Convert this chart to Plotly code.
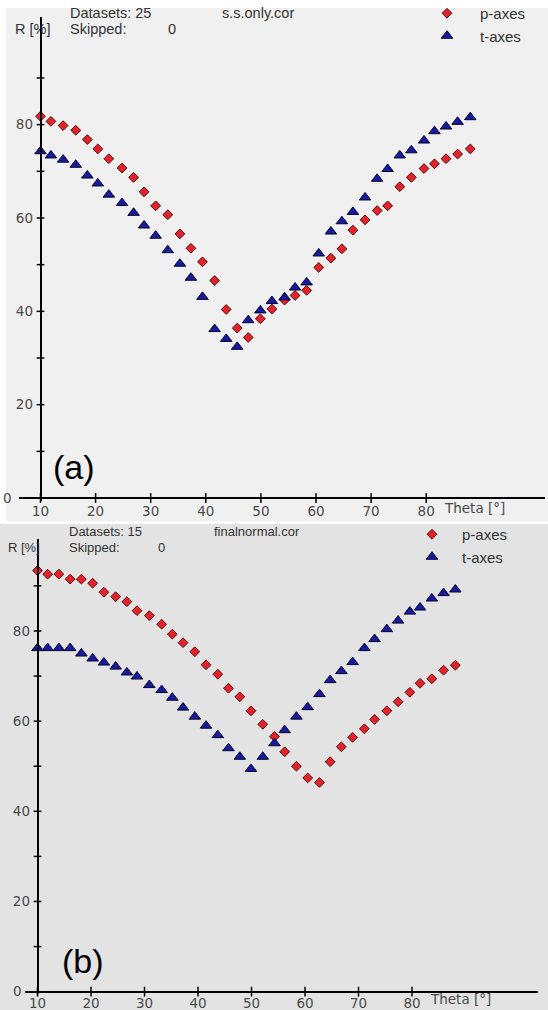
import plotly.graph_objects as go

W, H = 548, 1010

# ---------------- data ----------------
theta_a = [10.0, 11.9, 14.1, 16.4, 18.5, 20.4, 22.4, 24.8, 26.9, 28.8,
           30.9, 33.1, 35.3, 37.3, 39.4, 41.6, 43.7, 45.7, 47.7, 49.9,
           52.0, 54.3, 56.2, 58.3, 60.5, 62.7, 64.7, 66.7, 68.9, 71.1,
           73.0, 75.2, 77.3, 79.6, 81.5, 83.6, 85.7, 88.0]
p_axes_a = [81.8, 80.7, 79.8, 78.8, 76.8, 74.8, 72.7, 70.7, 68.7, 65.6,
            62.6, 60.7, 56.6, 53.5, 50.6, 46.6, 40.4, 36.4, 34.4, 38.4,
            40.5, 42.4, 43.4, 44.5, 49.4, 51.4, 53.4, 57.4, 59.6, 61.6,
            62.6, 66.7, 68.7, 70.6, 71.6, 72.7, 73.7, 74.8]
t_axes_a = [74.3, 73.4, 72.5, 71.4, 69.1, 67.4, 65.0, 63.2, 61.1, 58.4,
            56.2, 53.1, 50.2, 47.2, 43.1, 36.2, 34.1, 32.4, 38.1, 40.2,
            42.2, 43.0, 45.1, 46.2, 52.4, 57.1, 59.3, 61.3, 64.4, 68.4,
            70.5, 73.4, 74.5, 76.6, 78.6, 79.6, 80.6, 81.6]

theta_b = [10.0, 11.9, 14.0, 16.1, 18.2, 20.3, 22.4, 24.6, 26.7, 28.6,
           30.9, 33.2, 35.2, 37.2, 39.4, 41.5, 43.7, 45.7, 47.8, 49.9,
           52.1, 54.3, 56.2, 58.4, 60.5, 62.7, 64.7, 66.8, 68.9, 71.1,
           73.0, 75.3, 77.4, 79.6, 81.5, 83.7, 85.9, 88.1]
p_axes_b = [93.4, 92.6, 92.6, 91.5, 91.5, 90.6, 88.6, 87.6, 86.5, 84.5,
            83.4, 81.5, 79.3, 77.4, 75.4, 72.5, 70.4, 67.3, 65.4, 62.3,
            59.3, 56.6, 53.2, 50.0, 47.4, 46.4, 51.0, 54.3, 56.4, 58.3,
            60.4, 62.3, 64.3, 66.4, 68.4, 69.4, 71.3, 72.4]
t_axes_b = [76.2, 76.2, 76.2, 76.2, 75.0, 73.9, 73.0, 72.1, 70.8, 69.9,
            68.0, 66.9, 65.2, 63.0, 61.0, 59.0, 56.9, 54.0, 52.1, 49.4,
            52.1, 55.1, 58.0, 61.0, 63.1, 66.0, 69.1, 71.1, 73.1, 76.2,
            78.2, 80.4, 82.3, 84.3, 85.2, 87.2, 88.4, 89.2]

x_tickvals = [10, 20, 30, 40, 50, 60, 70, 80]
y_tickvals = [0, 20, 40, 60, 80]
y_minorvals = [10, 30, 50, 70, 90]
Y_AXIS_AT = 10      # theta where the R axis crosses
X_AXIS_AT = 0       # R where the theta axis crosses

# ---------------- style ----------------
RED, RED_EDGE = "#e3222b", "#5a0808"
BLUE, BLUE_EDGE = "#1a1a9e", "#00002a"
TICKFONT = dict(family="DejaVu Sans", size=13.5, color="#4a4a4a")


def px(x):
    return x / W


def py(y):
    return 1 - y / H


fig = go.Figure()

panels = [
    dict(xa="x", ya="y", lg="legend", theta=theta_a, p=p_axes_a, t=t_axes_a),
    dict(xa="x2", ya="y2", lg="legend2", theta=theta_b, p=p_axes_b, t=t_axes_b),
]
all_yticks = sorted(y_tickvals + y_minorvals)
for pn in panels:
    # crossing tick marks on both axes
    fig.add_trace(go.Scatter(
        x=[Y_AXIS_AT] * len(all_yticks), y=all_yticks, mode="markers",
        xaxis=pn["xa"], yaxis=pn["ya"], showlegend=False, hoverinfo="skip",
        cliponaxis=False,
        marker=dict(symbol="line-ew", size=5.5, color="black",
                    line=dict(color="black", width=1.5))))
    fig.add_trace(go.Scatter(
        x=x_tickvals, y=[X_AXIS_AT] * len(x_tickvals), mode="markers",
        xaxis=pn["xa"], yaxis=pn["ya"], showlegend=False, hoverinfo="skip",
        cliponaxis=False,
        marker=dict(symbol="line-ns", size=7, color="black",
                    line=dict(color="black", width=1.5))))
    fig.add_trace(go.Scatter(
        x=pn["theta"], y=pn["p"], mode="markers", name="p-axes",
        xaxis=pn["xa"], yaxis=pn["ya"], legend=pn["lg"], legendgroup="p" + pn["xa"],
        cliponaxis=False,
        marker=dict(symbol="diamond", size=7.5, color=RED,
                    line=dict(color=RED_EDGE, width=1))))
    fig.add_trace(go.Scatter(
        x=pn["theta"], y=pn["t"], mode="markers", name="t-axes",
        xaxis=pn["xa"], yaxis=pn["ya"], legend=pn["lg"], legendgroup="t" + pn["xa"],
        cliponaxis=False,
        marker=dict(symbol="triangle-up", size=10, color=BLUE,
                    line=dict(color=BLUE_EDGE, width=1))))

# geometry of the two panels (pixels)
geo = {
    "a": dict(xdom=[px(19), px(545)], xrange=[6.10, 101.56],
              ydom=[py(501.3), py(17.3)], yrange=[-0.7, 103], ypos=px(40.5), zero_pad=5),
    "b": dict(xdom=[px(25), px(538)], xrange=[7.66, 103.55],
              ydom=[py(993.7), py(539)], yrange=[-0.45, 100.4], ypos=px(37.5), zero_pad=2),
}


def xaxis_main(g, anchor):
    return dict(domain=g["xdom"], range=g["xrange"], anchor=anchor,
                showline=False, tickvals=x_tickvals, ticks="",
                tickfont=TICKFONT, showgrid=False, zeroline=False)


def yaxis_main(g):
    return dict(domain=g["ydom"], range=g["yrange"], anchor="free", position=g["ypos"],
                showline=True, linecolor="black", linewidth=1.5,
                zeroline=True, zerolinecolor="black", zerolinewidth=1.5,
                tickvals=y_tickvals,
                ticktext=["0" + "\u00a0" * g["zero_pad"]] + [str(v) for v in y_tickvals[1:]],
                ticks="outside", ticklen=4, tickcolor="rgba(0,0,0,0)",
                tickfont=TICKFONT, showgrid=False)


fig.update_layout(
    xaxis=xaxis_main(geo["a"], "y"),
    yaxis=yaxis_main(geo["a"]),
    xaxis2=xaxis_main(geo["b"], "y2"),
    yaxis2=yaxis_main(geo["b"]),
)

# panel backgrounds
fig.add_shape(type="rect", xref="paper", yref="paper", x0=px(6), x1=1, y0=py(521), y1=py(8),
              fillcolor="#f0f0f0", line=dict(width=0), layer="below")
fig.add_shape(type="rect", xref="paper", yref="paper", x0=0, x1=1, y0=0, y1=py(524),
              fillcolor="#e3e3e3", line=dict(width=0), layer="below")

TXT = dict(family="Liberation Sans", size=14.5, color="#333333")
TXT_B = dict(family="Liberation Sans", size=13, color="#333333")
LEG = dict(family="Liberation Sans", size=15, color="#333333")


def note(text, x, y, font, xanchor="left"):
    fig.add_annotation(text=text, x=px(x), y=py(y), xref="paper", yref="paper",
                       xanchor=xanchor, yanchor="middle", showarrow=False, font=font)


# panel (a) texts
note("R [%]", 13, 29, TXT)
note("Datasets: 25", 68, 13, TXT)
note("Skipped:", 68, 29, TXT)
note("0", 172, 29, TXT, "center")
note("s.s.only.cor", 220, 13, TXT)
note("Theta [°]", 442, 508, TICKFONT)
note("(a)", 74, 467, dict(family="Liberation Sans", size=34, color="black"), "center")

# panel (b) texts
note("R [%]", 6, 547, TXT_B)
note("Datasets: 15", 67, 531, TXT_B)
note("Skipped:", 67, 547, TXT_B)
note("0", 161, 547, TXT_B, "center")
note("finalnormal.cor", 212, 531, TXT_B)
note("Theta [°]", 428, 999, TICKFONT)
note("(b)", 83, 961, dict(family="Liberation Sans", size=34, color="black"), "center")

fig.update_layout(
    width=W, height=H, margin=dict(l=0, r=0, t=0, b=0, autoexpand=False),
    paper_bgcolor="white", plot_bgcolor="rgba(0,0,0,0)",
    showlegend=True,
    legend=dict(x=px(414), y=py(-3), xanchor="left", yanchor="top",
                bgcolor="rgba(0,0,0,0)", font=LEG, itemwidth=56, tracegroupgap=0),
    legend2=dict(x=px(402), y=py(518), xanchor="left", yanchor="top",
                 bgcolor="rgba(0,0,0,0)", font=LEG, itemwidth=50, tracegroupgap=0),
)

fig.write_html("out.html")
